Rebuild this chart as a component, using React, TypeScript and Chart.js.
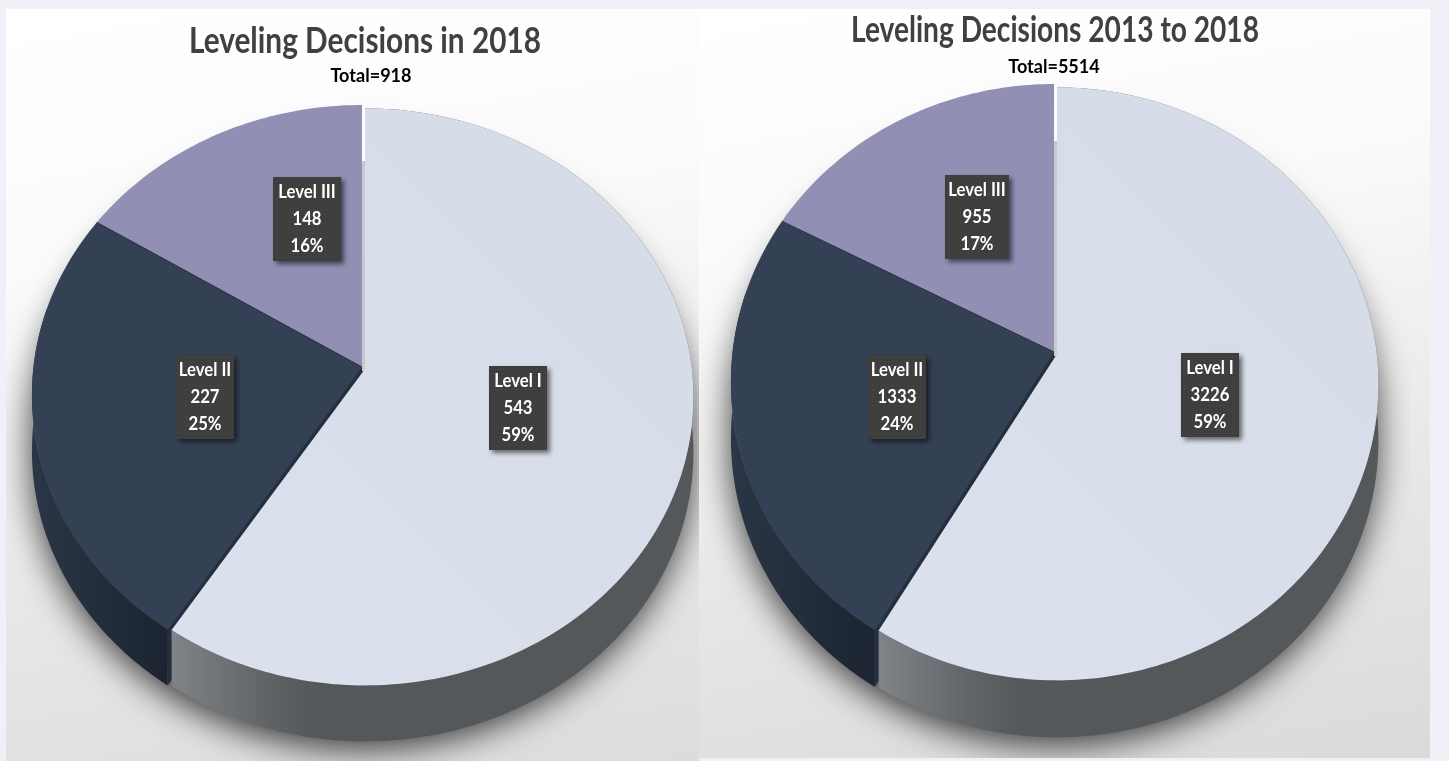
import React, { useEffect, useRef } from "react";
import { Chart, registerables } from "chart.js";

Chart.register(...registerables);

const categories = ["Level I", "Level II", "Level III"];
const values2018 = [543, 227, 148];
const valuesAll = [3226, 1333, 955];
const title2018 = "Leveling Decisions in 2018";
const titleAll = "Leveling Decisions 2013 to 2018";
const total2018 = "Total=918";
const totalAll = "Total=5514";

const faceColors = ["#d7dde8", "#344154", "#918fb3"];

type Geo = {
  cx: number; cy: number; R: number; S: number; p: number; depth: number;
  first: { dx: number; dy: number; k: number };
  sub: { x: number; y: number };
  labels: { x: number; y: number; w: number }[];
};

const geo2018: Geo = {
  cx: 362, cy: 367, R: 328.5, S: 287.3, p: 0.0966, depth: 56,
  first: { dx: 3, dy: 2, k: 0.995 },
  sub: { x: 371, y: 76 },
  labels: [{ x: 518, y: 408, w: 58 }, { x: 205, y: 397, w: 58 }, { x: 307, y: 219, w: 68 }],
};
const geoAll: Geo = {
  cx: 355, cy: 352, R: 321.4, S: 295, p: 0.1007, depth: 57,
  first: { dx: 3, dy: 2, k: 0.995 },
  sub: { x: 355, y: 67 },
  labels: [{ x: 511, y: 395, w: 58 }, { x: 198, y: 397, w: 58 }, { x: 278, y: 217, w: 64 }],
};

function arcPoints(g: Geo, a0: number, a1: number, dx: number, dy: number, k: number) {
  const n = Math.max(8, Math.ceil(((a1 - a0) / (2 * Math.PI)) * 360));
  const pts: [number, number][] = [];
  for (let i = 0; i <= n; i++) {
    const t = a0 + ((a1 - a0) * i) / n + Math.PI / 2;
    const u = Math.sin(t);
    const v = -Math.cos(t);
    const w = 1 - g.p * v;
    pts.push([g.cx + dx + (g.R * k * u) / w, g.cy + dy + (g.S * k * v) / w]);
  }
  return pts;
}

function poly(ctx: CanvasRenderingContext2D, pts: [number, number][], oy = 0, ox = 0) {
  pts.forEach((q, i) => (i ? ctx.lineTo(q[0] + ox, q[1] + oy) : ctx.moveTo(q[0] + ox, q[1] + oy)));
  ctx.closePath();
}

function sweep(ctx: CanvasRenderingContext2D, pts: [number, number][], d: number, fill: string | CanvasGradient) {
  ctx.beginPath();
  pts.forEach((q, i) => (i ? ctx.lineTo(q[0], q[1]) : ctx.moveTo(q[0], q[1])));
  for (let i = pts.length - 1; i >= 0; i--) ctx.lineTo(pts[i][0], pts[i][1] + d);
  ctx.closePath();
  ctx.fillStyle = fill;
  ctx.fill();
}

const pie3d = {
  id: "pie3d",
  beforeDatasetsDraw(chart: any, _a: any, opts: any) {
    const g: Geo = opts.geo;
    const ctx: CanvasRenderingContext2D = chart.ctx;
    const arcs = chart.getDatasetMeta(0).data;
    const d = g.depth;
    ctx.save();

    const I = arcs[0], II = arcs[1], III = arcs[2];
    const oI = g.first;
    const ptsI = arcPoints(g, I.startAngle, I.endAngle, oI.dx, oI.dy, oI.k);
    const ptsII = arcPoints(g, II.startAngle, II.endAngle, 0, 0, 1);
    const ptsIII = arcPoints(g, III.startAngle, III.endAngle, 0, 0, 1);
    const apex: [number, number] = [g.cx, g.cy];
    const apexI: [number, number] = [g.cx + oI.dx, g.cy + oI.dy];

    // soft shadow of the lower part of the solid, kept out of the gap between Level III and Level I
    const whole = arcPoints(g, -Math.PI / 2, 1.5 * Math.PI, 0, 0, 1);
    const gapTop = ptsIII[ptsIII.length - 1][1];
    ctx.save();
    ctx.beginPath();
    ctx.rect(0, 0, chart.width, chart.height);
    ctx.rect(g.cx - 1, gapTop - 1, oI.dx + 2, g.cy - gapTop + 1);
    ctx.clip("evenodd");
    const far = 3000;
    ctx.shadowColor = "rgba(0,0,0,0.75)";
    ctx.shadowBlur = 34;
    ctx.shadowOffsetX = far;
    ctx.shadowOffsetY = 8;
    ctx.beginPath();
    for (let o = 2; o <= 4; o++) poly(ctx, whole, (d * o) / 4, -far);
    ctx.fillStyle = "#000";
    ctx.fill("nonzero");
    ctx.restore();

    // radial wall of Level III, seen in the gap at 12 o'clock
    const wallW = oI.dx + 2;
    ctx.fillStyle = "#c9c9cb";
    ctx.fillRect(g.cx - 1, gapTop + d, wallW, g.cy - gapTop - d + oI.dy + 2);

    // outer wall of Level II
    const x0 = Math.min(...ptsII.map((q) => q[0]));
    const x1 = ptsII[0][0];
    const gII = ctx.createLinearGradient(x0, 0, x1, 0);
    gII.addColorStop(0, "#2b3646");
    gII.addColorStop(1, "#1b2430");
    sweep(ctx, ptsII.filter((q) => q[1] >= g.cy - 60), d, gII);
    sweep(ctx, [apex, ptsII[0]], d, "#243040");

    // outer wall of Level I
    const lx = ptsI[ptsI.length - 1][0];
    const gI = ctx.createLinearGradient(lx, 0, lx + 170, 0);
    gI.addColorStop(0, "#808387");
    gI.addColorStop(0.45, "#66696d");
    gI.addColorStop(0.8, "#56595b");
    gI.addColorStop(1, "#54585a");
    sweep(ctx, ptsI, d, gI);

    // top faces
    const face = (pts: [number, number][], a: [number, number], c: string | CanvasGradient) => {
      ctx.beginPath();
      ctx.moveTo(a[0], a[1]);
      pts.forEach((q) => ctx.lineTo(q[0], q[1]));
      ctx.closePath();
      ctx.fillStyle = c;
      ctx.fill();
    };
    face(ptsIII, apex, faceColors[2]);
    face(ptsII, apex, faceColors[1]);
    ctx.beginPath();
    ctx.moveTo(apex[0], apex[1]);
    ctx.lineTo(ptsIII[0][0], ptsIII[0][1]);
    ctx.strokeStyle = "#2c3044";
    ctx.lineWidth = 1;
    ctx.stroke();
    const gF = ctx.createLinearGradient(g.cx - 200, g.cy + 300, g.cx + 200, g.cy - 100);
    gF.addColorStop(0, "#dce2ed");
    gF.addColorStop(1, faceColors[0]);
    face(ptsI, apexI, gF);
    ctx.restore();
    return false;
  },
  afterDraw(chart: any, _a: any, opts: any) {
    const g: Geo = opts.geo;
    const ctx: CanvasRenderingContext2D = chart.ctx;
    const data: number[] = chart.data.datasets[0].data;
    const sum = data.reduce((a, b) => a + b, 0);
    ctx.save();
    ctx.textAlign = "center";
    ctx.textBaseline = "middle";

    ctx.fillStyle = "#000";
    ctx.font = "bold 19px Lato";
    ctx.fillText(opts.total, g.sub.x, g.sub.y, ctx.measureText(opts.total).width * 0.95);

    const tile = document.createElement("canvas");
    tile.width = tile.height = 4;
    const t = tile.getContext("2d")!;
    t.fillStyle = "#3e3e3e";
    t.fillRect(0, 0, 4, 4);
    t.fillStyle = "#4a4a4a";
    t.fillRect(1, 1, 1, 1);
    const pat = ctx.createPattern(tile, "repeat")!;

    g.labels.forEach((b, i) => {
      const h = 84;
      ctx.save();
      ctx.shadowColor = "rgba(0,0,0,0.55)";
      ctx.shadowBlur = 5;
      ctx.shadowOffsetX = 3;
      ctx.shadowOffsetY = 3;
      ctx.fillStyle = pat;
      ctx.fillRect(b.x - b.w / 2, b.y - h / 2, b.w, h);
      ctx.restore();
      ctx.fillStyle = "#fff";
      ctx.font = "bold 19px Lato";
      const lines = [categories[i], String(data[i]), Math.round((data[i] / sum) * 100) + "%"];
      lines.forEach((s, j) => {
        ctx.fillText(s, b.x, b.y + (j - 1) * 27, ctx.measureText(s).width * 0.88);
      });
    });
    ctx.restore();
  },
};

function Pie({ values, title, total, geo, width, titleW, titleTop, style }: any) {
  const ref = useRef<HTMLCanvasElement>(null);
  useEffect(() => {
    const side = (width - titleW) / 2;
    const chart = new Chart(ref.current!, {
      type: "pie",
      data: { labels: categories, datasets: [{ data: values, backgroundColor: faceColors, borderWidth: 0 }] },
      options: {
        animation: false,
        responsive: false,
        layout: { padding: { left: side, right: side } },
        plugins: {
          legend: { display: false },
          tooltip: { enabled: false },
          title: {
            display: true,
            text: title,
            color: "#404040",
            font: { family: "Lato", size: 36, weight: "bold" },
            padding: { top: titleTop, bottom: 4 },
          },
          pie3d: { geo, total },
        } as any,
      },
      plugins: [pie3d as any],
    });
    return () => chart.destroy();
  }, []);
  return <canvas ref={ref} width={width} height={761} style={{ position: "absolute", display: "block", ...style }} />;
}

export default function App() {
  useEffect(() => {
    document.body.style.margin = "0";
    document.body.style.overflow = "hidden";
  }, []);
  const panel: React.CSSProperties = { position: "absolute", overflow: "hidden" };
  return (
    <div style={{ position: "fixed", left: 0, top: 0, width: 1449, height: 761, background: "#eff1f6", overflow: "hidden" }}>
      <div style={{ ...panel, left: 6, top: 9, width: 693, height: 752, background: "linear-gradient(170deg,#ffffff 0%,#fbfbfb 30%,#e9e9e9 65%,#dcdcdc 100%)" }}>
        <Pie values={values2018} title={title2018} total={total2018} geo={geo2018} width={730} titleW={352} titleTop={20} style={{ left: -6, top: -9 }} />
      </div>
      <div style={{ ...panel, left: 699, top: 9, width: 731, height: 749, background: "linear-gradient(170deg,#ffffff 0%,#fafafa 30%,#e8e8e8 65%,#dadada 100%)" }}>
        <Pie values={valuesAll} title={titleAll} total={totalAll} geo={geoAll} width={712} titleW={408} titleTop={9} style={{ left: 0, top: -9 }} />
      </div>
    </div>
  );
}
